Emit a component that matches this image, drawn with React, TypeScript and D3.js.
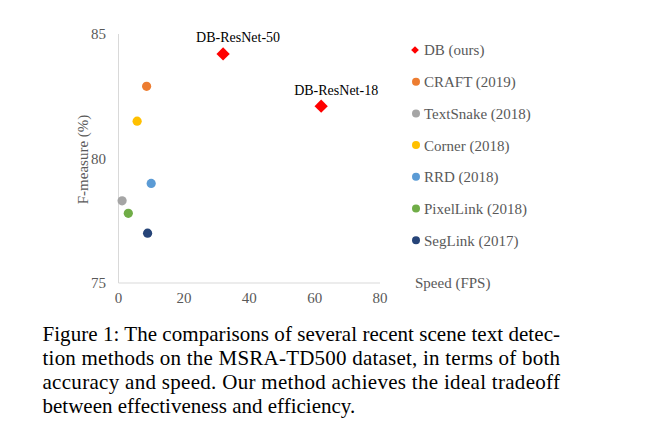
import React from "react";
import * as d3 from "d3";

const methods = ["DB (ours)", "CRAFT (2019)", "TextSnake (2018)", "Corner (2018)", "RRD (2018)", "PixelLink (2018)", "SegLink (2017)"];
const colors = ["#FF0000", "#ED7D31", "#A5A5A5", "#FFC000", "#5B9BD5", "#70AD47", "#264478"];

const dbLabels = ["DB-ResNet-50", "DB-ResNet-18"];
const dbSpeed = [32, 62];
const dbFmeasure = [84.2, 82.1];

const otherMethods = ["CRAFT (2019)", "TextSnake (2018)", "Corner (2018)", "RRD (2018)", "PixelLink (2018)", "SegLink (2017)"];
const otherSpeed = [8.6, 1.1, 5.7, 10, 3, 8.9];
const otherFmeasure = [82.9, 78.3, 81.5, 79.0, 77.8, 77.0];

const xTicks = [0, 20, 40, 60, 80];
const yTicks = [75, 80, 85];

const xTitle = "Speed (FPS)";
const yTitle = "F-measure (%)";

const captionLines = [
  "Figure 1: The comparisons of several recent scene text detec-",
  "tion methods on the MSRA-TD500 dataset, in terms of both",
  "accuracy and speed. Our method achieves the ideal tradeoff",
  "between effectiveness and efficiency.",
];

const W = 653;
const H = 441;
const FONT = "'Liberation Serif', 'Times New Roman', serif";

export default function App() {
  const x = d3.scaleLinear().domain([0, 80]).range([118.5, 380]);
  const y = d3.scaleLinear().domain([75, 85]).range([283, 34]);
  const bigDiamond = d3.symbol().type(d3.symbolSquare).size(88)();
  const smallDiamond = d3.symbol().type(d3.symbolSquare).size(30)();
  const tickColor = "#595959";
  const legendX = 415;
  const legendY0 = 50;
  const legendStep = 31.7;

  return (
    <svg width={W} height={H} style={{ position: "absolute", left: 0, top: 0, background: "#fff" }} fontFamily={FONT}>
      <rect x={0} y={0} width={W} height={H} fill="#fff" />
      {/* axes */}
      <line x1={x(0)} x2={x(0)} y1={y(85)} y2={y(75)} stroke="#D9D9D9" strokeWidth={1} />
      <line x1={x(0)} x2={x(80)} y1={y(75)} y2={y(75)} stroke="#D9D9D9" strokeWidth={1} />
      {yTicks.map((t) => (
        <text key={"y" + t} x={106} y={y(t)} dy="0.35em" textAnchor="end" fontSize={15} fill={tickColor}>
          {t}
        </text>
      ))}
      {xTicks.map((t) => (
        <text key={"x" + t} x={x(t)} y={303} textAnchor="middle" fontSize={15} fill={tickColor}>
          {t}
        </text>
      ))}
      <text transform={`translate(88,${(y(85) + y(75)) / 2 + 1}) rotate(-90)`} textAnchor="middle" fontSize={15} fill={tickColor}>
        {yTitle}
      </text>
      <text x={415} y={288} fontSize={15} fill={tickColor}>
        {xTitle}
      </text>
      {/* other methods */}
      {otherMethods.map((m, i) => (
        <circle key={m} cx={x(otherSpeed[i])} cy={y(otherFmeasure[i])} r={4.6} fill={colors[methods.indexOf(m)]} />
      ))}
      {/* DB */}
      {dbLabels.map((l, i) => (
        <g key={l}>
          <path d={bigDiamond} transform={`translate(${x(dbSpeed[i])},${y(dbFmeasure[i])}) rotate(45)`} fill={colors[0]} />
          <text x={x(dbSpeed[i]) + 15} y={y(dbFmeasure[i]) - 11.5} textAnchor="middle" fontSize={14} fill="#000">
            {l}
          </text>
        </g>
      ))}
      {/* legend */}
      {methods.map((m, i) => {
        const cy = legendY0 + i * legendStep;
        return (
          <g key={"lg" + m}>
            {i === 0 ? (
              <path d={smallDiamond} transform={`translate(${legendX},${cy}) rotate(45)`} fill={colors[i]} />
            ) : (
              <circle cx={legendX + 1} cy={cy} r={4} fill={colors[i]} />
            )}
            <text x={424} y={cy} dy="0.36em" fontSize={15} fill={tickColor}>
              {m}
            </text>
          </g>
        );
      })}
      {/* caption */}
      {captionLines.map((l, i) => (
        <text
          key={"c" + i}
          x={42.5}
          y={341 + i * 24}
          fontSize={21}
          fill="#000"
          {...(i < 3 ? { textLength: 517.5, lengthAdjust: "spacing" } : {})}
        >
          {l}
        </text>
      ))}
    </svg>
  );
}
